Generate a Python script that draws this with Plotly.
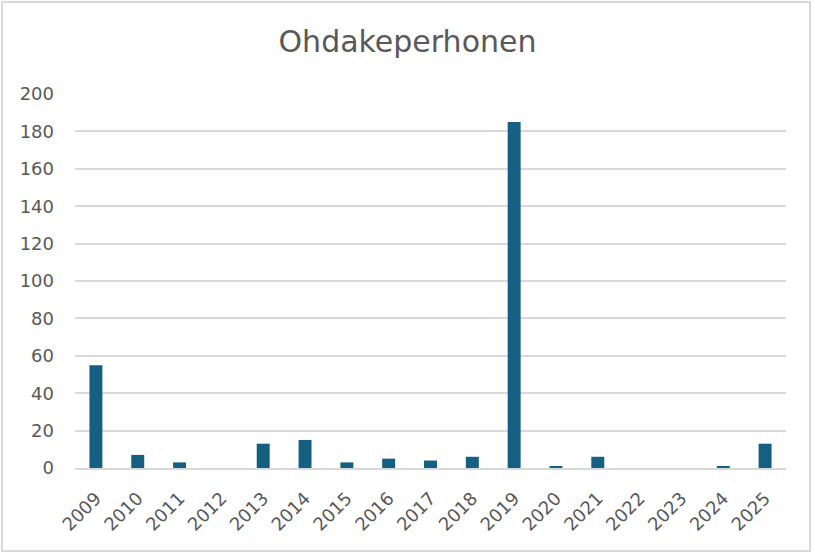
import plotly.graph_objects as go

years = [str(y) for y in range(2009, 2026)]
counts = [55, 7, 3, 0, 13, 15, 3, 5, 4, 6, 185, 1, 6, 0, 0, 1, 13]
title = "Ohdakeperhonen"

W, H = 815, 554
L, R, T, B = 75, 29, 94, 86
pw, ph = W - L - R, H - T - B
FONT = "DejaVu Sans"

fig = go.Figure(go.Bar(x=years, y=counts, marker_color="#156082", marker_line_width=0))

fig.update_layout(
    width=W, height=H,
    margin=dict(l=L, r=R, t=T, b=B),
    paper_bgcolor="white", plot_bgcolor="white",
    bargap=0.69,
    showlegend=False,
    font=dict(family=FONT, color="#595959", size=18),
    title=dict(text=title, x=0.5, xanchor="center", y=1 - 41 / H, yanchor="middle",
               font=dict(size=30, color="#595959", family=FONT)),
    xaxis=dict(type="category", tickangle=-45, showgrid=False, showline=True,
               linecolor="#d9d9d9", linewidth=1.5, ticks="", tickfont=dict(size=18),
               ticklabelstandoff=11),
    yaxis=dict(range=[0, 200], dtick=20, showgrid=True, gridcolor="#d9d9d9",
               gridwidth=1.5, zeroline=False, ticks="", tickfont=dict(size=18),
               ticklabelstandoff=20),
    shapes=[dict(type="rect", xref="paper", yref="paper",
                 x0=(2 - L) / pw, x1=(810 - L) / pw,
                 y0=(H - B - 551) / ph, y1=(H - B - 2) / ph,
                 line=dict(color="#d9d9d9", width=2), fillcolor="rgba(0,0,0,0)",
                 layer="below")],
)

fig.write_html("out.html")
